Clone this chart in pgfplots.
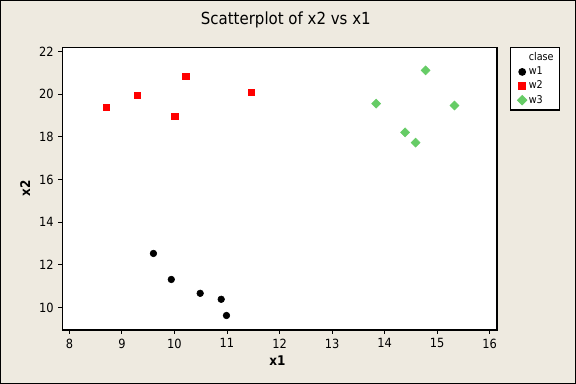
\documentclass[border=0pt]{standalone}
\usepackage{pgfplots}
\pgfplotsset{compat=1.18}
\usepackage{fontspec}
\setmainfont{DejaVu Sans Condensed}
\definecolor{bgc}{RGB}{238,234,224}
\definecolor{mgreen}{RGB}{102,204,102}
\begin{document}
\begin{tikzpicture}
\fill[bgc] (0,0) rectangle (432pt,288pt);
\draw[black, line width=1pt] (0.5pt,0.5pt) rectangle (431.5pt,287.5pt);
\useasboundingbox (0,0) rectangle (432pt,288pt);
\begin{axis}[
  at={(46.8pt,40.5pt)}, anchor=south west,
  scale only axis, width=325.95pt, height=212pt,
  xmin=7.867, xmax=16.14, ymin=8.94, ymax=22.2,
  xtick={8,...,16}, ytick={10,12,...,22},
  tick align=outside, xtick pos=bottom, ytick pos=left,
  major tick length=3pt,
  axis line style={line width=0.9pt},
  every tick/.style={black, line width=0.7pt},
  axis background/.style={fill=white},
  /pgf/number format/assume math mode=true,
  tick label style={font=\fontsize{9.5}{11}\selectfont},
  title={Scatterplot of x2 vs x1},
  title style={at={(axis description cs:0.514,1.069)}, anchor=center, font=\fontsize{12.5}{14}\selectfont},
  xlabel={\bfseries x1},
  ylabel={\bfseries x2},
  xlabel style={at={(axis description cs:0.495,-0.1086)}, anchor=center, font=\fontsize{10}{12}\selectfont},
  ylabel style={at={(axis description cs:-0.0859,0.5)}, anchor=center, font=\fontsize{10}{12}\selectfont},
  legend style={at={(axis description cs:1.0306,1)}, anchor=north west, draw=black, line width=0.8pt, fill=white,
    font=\fontsize{8}{9.5}\selectfont, row sep=0pt, inner xsep=3pt, inner ysep=2pt,
    nodes={inner sep=1.6pt}},
  legend image post style={xshift=-3pt},
  legend cell align=left,
]
\addlegendimage{empty legend}
\addlegendentry{clase}
\addplot[only marks, mark=*, mark size=2.5pt, mark options={fill=black, draw=black}] coordinates {
(9.60,12.53) (9.94,11.31) (10.49,10.66) (10.89,10.38) (10.99,9.62)
};
\addlegendentry{w1}
\addplot[only marks, mark=square*, mark size=2.5pt, mark options={fill=red, draw=red}] coordinates {
(8.70,19.39) (9.29,19.95) (10.00,18.96) (10.22,20.84) (11.46,20.09)
};
\addlegendentry{w2}
\addplot[only marks, mark=square*, mark size=2.4pt, mark options={fill=mgreen, draw=mgreen, rotate=45}] coordinates {
(13.84,19.56) (14.39,18.21) (14.59,17.73) (14.78,21.12) (15.33,19.47)
};
\addlegendentry{w3}
\end{axis}
\end{tikzpicture}
\end{document}
